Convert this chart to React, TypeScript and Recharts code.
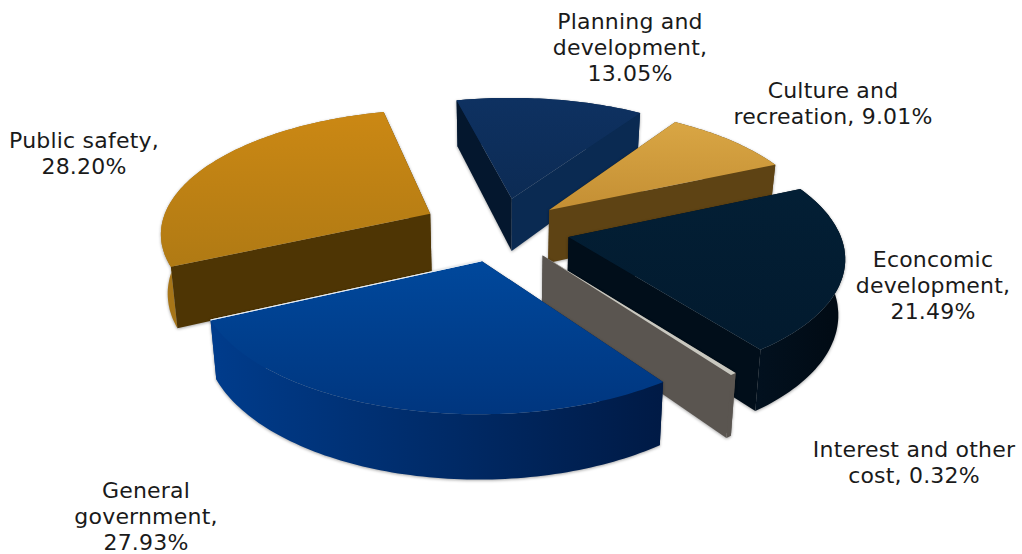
import { Pie, PieChart } from 'recharts';

const categories = [
  'Public safety',
  'Planning and development',
  'Culture and recreation',
  'Econcomic development',
  'Interest and other cost',
  'General government',
];
const shares = [28.2, 13.05, 9.01, 21.49, 0.32, 27.93];
const labelRows = [
  ['Public safety,', '28.20%'],
  ['Planning and', 'development,', '13.05%'],
  ['Culture and', 'recreation, 9.01%'],
  ['Econcomic', 'development,', '21.49%'],
  ['Interest and other', 'cost, 0.32%'],
  ['General', 'government,', '27.93%'],
];

const pieData = categories.map((name, i) => ({ name, value: shares[i] }));

// where each label block is centred, and the baseline of its first row
const labelSpots = [
  [84, 148],
  [630, 29],
  [833, 98],
  [933, 267],
  [914, 457],
  [146, 498],
];

// how far each slice is pulled out of the pie, and how thick it is
const pulls = [73, 65, 61, 65, 65, 65];
const thicknesses = [59, 54, 54, 54, 54, 54];

type SliceLook = {
  top: [string, string];
  startWall: string;
  endWall: string;
  rim: [string, string];
  edge?: string;
};

const looks: SliceLook[] = [
  { top: ['#cb8814', '#b07a14'], startWall: '#4e3504', endWall: '#4e3504', rim: ['#a87618', '#8d6212'] },
  { top: ['#0e3161', '#0c2b54'], startWall: '#04172e', endWall: '#0a2a52', rim: ['#0a2a52', '#0a2a52'] },
  { top: ['#d9a644', '#c48f34'], startWall: '#5e4314', endWall: '#5e4314', rim: ['#5e4314', '#5e4314'] },
  { top: ['#031f35', '#021a2e'], startWall: '#010e1a', endWall: '#010e1a', rim: ['#02111f', '#010a13'] },
  { top: ['#c9c8c0', '#c9c8c0'], startWall: '#5a5550', endWall: '#5a5550', rim: ['#5a5550', '#5a5550'] },
  { top: ['#00489c', '#00367f'], startWall: '#001a45', endWall: '#003a8a', rim: ['#003c8c', '#001a45'], edge: '#e8edf2' },
];

const CX = 500;
const CY = 229;
const RADIUS = 250;
const TILT = 0.49;
const STRETCH = 1.08;
const PERSPECTIVE = 0.138;
const BASE_SHRINK = 0.98;

// pie plane to screen: u runs right, v runs toward the viewer, drop is the height below the top face
function project(u: number, v: number, drop: number) {
  const depth = 1 / (1 - (PERSPECTIVE * v) / RADIUS);
  const s = depth * STRETCH * (drop > 0 ? BASE_SHRINK : 1);
  return [CX + u * s, CY + TILT * v * depth + drop * depth];
}

const toPath = (pts: number[][]) => 'M' + pts.map((p) => p[0].toFixed(1) + ' ' + p[1].toFixed(1)).join('L') + 'Z';

function ExtrudedSlice(props: any) {
  const index = categories.indexOf(props.name ?? props.payload?.name);
  const look = looks[index];
  const drop = thicknesses[index];
  // recharts angles run counter-clockwise from 3 o'clock, here clockwise from 12
  const from = ((90 - props.startAngle) * Math.PI) / 180;
  const to = ((90 - props.endAngle) * Math.PI) / 180;
  const mid = (from + to) / 2;
  const u0 = pulls[index] * Math.sin(mid);
  const v0 = -pulls[index] * Math.cos(mid);

  const steps = Math.max(2, Math.ceil((to - from) / 0.02));
  const arc: number[][] = [];
  for (let i = 0; i <= steps; i++) {
    const t = from + ((to - from) * i) / steps;
    arc.push([u0 + RADIUS * Math.sin(t), v0 - RADIUS * Math.cos(t)]);
  }

  const radial = (p: number[], fill: string, key: string) => (
    <path
      key={key}
      d={toPath([project(u0, v0, 0), project(p[0], p[1], 0), project(p[0], p[1], drop), project(u0, v0, drop)])}
      fill={fill}
    />
  );
  const startShown = -Math.sin(from) > 0;
  const endShown = Math.sin(to) > 0;
  const startWall = radial(arc[0], look.startWall, 'start');
  const endWall = radial(arc[steps], look.endWall, 'end');

  const rimPts = [
    ...arc.map((p) => project(p[0], p[1], 0)),
    ...arc.map((p) => project(p[0], p[1], drop)).reverse(),
  ];
  const topPts = [project(u0, v0, 0), ...arc.map((p) => project(p[0], p[1], 0))];
  const topId = `slice-top-${index}`;
  const rimId = `slice-rim-${index}`;
  return (
    <g style={{ filter: 'drop-shadow(0 1px 1.5px rgba(0,0,0,0.35))' }}>
      <defs>
        <linearGradient id={topId} x1="0" y1="0" x2="0" y2="1">
          <stop offset="0%" stopColor={look.top[0]} />
          <stop offset="100%" stopColor={look.top[1]} />
        </linearGradient>
        <linearGradient id={rimId} x1="0" y1="0" x2="1" y2="0">
          <stop offset="0%" stopColor={look.rim[0]} />
          <stop offset="100%" stopColor={look.rim[1]} />
        </linearGradient>
      </defs>
      {!startShown && startWall}
      {!endShown && endWall}
      <path d={toPath(rimPts)} fill={`url(#${rimId})`} />
      {startShown && startWall}
      {endShown && endWall}
      <path d={toPath(topPts)} fill={`url(#${topId})`} />
      {look.edge && (
        <path d={toPath([topPts[0], topPts[topPts.length - 1]])} stroke={look.edge} strokeWidth={1} fill="none" />
      )}
    </g>
  );
}

function SliceLabel(props: any) {
  const [x, y] = labelSpots[props.index];
  return (
    <text x={x} y={y} textAnchor="middle" fontFamily="DejaVu Sans" fontSize={22} letterSpacing={0.2} fill="#1a1a1a">
      {labelRows[props.index].map((row, i) => (
        <tspan key={row} x={x} dy={i === 0 ? 0 : 26}>
          {row}
        </tspan>
      ))}
    </text>
  );
}

export default function App() {
  return (
    <div style={{ position: 'absolute', left: 0, top: 0, width: 1022, height: 554 }}>
      <PieChart width={1022} height={554} margin={{ top: 0, right: 0, bottom: 0, left: 0 }}>
        <Pie
          data={pieData}
          dataKey="value"
          nameKey="name"
          cx={CX}
          cy={CY}
          outerRadius={RADIUS}
          startAngle={205}
          endAngle={-155}
          stroke="none"
          shape={ExtrudedSlice}
          label={SliceLabel}
          labelLine={false}
          isAnimationActive={false}
        />
      </PieChart>
    </div>
  );
}
